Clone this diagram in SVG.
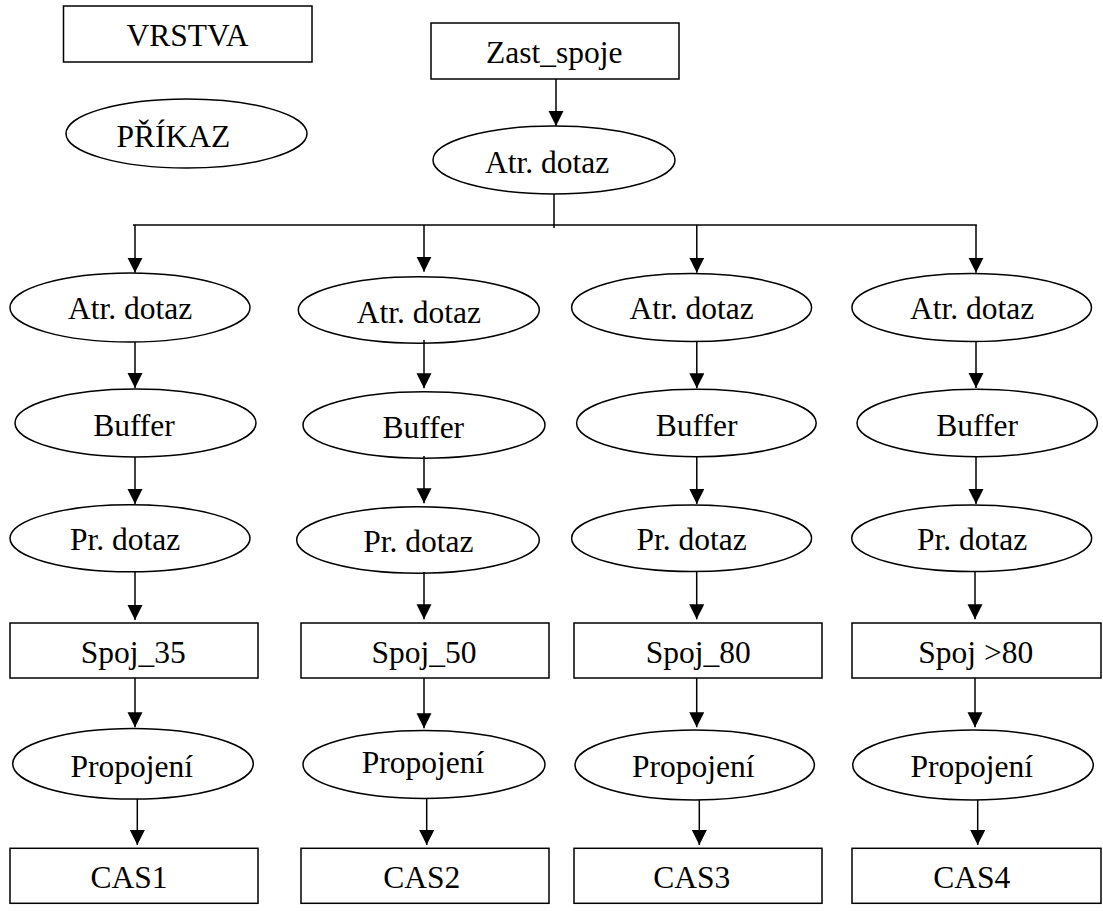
<svg xmlns="http://www.w3.org/2000/svg" width="1103" height="911" viewBox="0 0 1103 911">
<style>
.n{fill:#fff;stroke:#000;stroke-width:1.5}
.t{font-family:'Liberation Serif','Times New Roman',serif;font-size:31.5px;fill:#000;text-anchor:middle}
.c{fill:none;stroke:#000;stroke-width:1.5}
.a{marker-end:url(#ah)}
</style>
<defs>
<marker id="ah" markerUnits="userSpaceOnUse" markerWidth="16" markerHeight="16" refX="15" refY="7.5" orient="auto">
<path d="M0,0 L15,7.5 L0,15 z" fill="#000"/>
</marker>
</defs>
<rect width="1103" height="911" fill="#fff"/>
<g id="legend-vrstva"><rect class="n" x="63.5" y="6" width="248.5" height="56"/><text class="t" x="187.5" y="45.7">VRSTVA</text></g>
<g id="legend-prikaz"><ellipse class="n" cx="186.5" cy="133.5" rx="120.5" ry="34.5"/><text class="t" x="173.3" y="147">PŘÍKAZ</text></g>
<g id="zast"><rect class="n" x="431" y="23" width="248" height="56"/><text class="t" x="554.3" y="63.3">Zast_spoje</text></g>
<g id="atr0"><ellipse class="n" cx="554" cy="160" rx="121" ry="34"/><text class="t" x="547" y="173">Atr. dotaz</text></g>

<g id="atr1"><ellipse class="n" cx="130" cy="307.5" rx="120" ry="34.5"/><text class="t" x="130" y="319.3">Atr. dotaz</text></g>
<g id="buf1"><ellipse class="n" cx="135.5" cy="423" rx="120.5" ry="34"/><text class="t" x="134" y="436">Buffer</text></g>
<g id="pr1"><ellipse class="n" cx="130" cy="538.3" rx="120" ry="33.5"/><text class="t" x="125" y="550">Pr. dotaz</text></g>
<g id="spoj1"><rect class="n" x="10" y="623" width="248" height="55"/><text class="t" x="133.3" y="663.3">Spoj_35</text></g>
<g id="prop1"><ellipse class="n" cx="133" cy="763.7" rx="120.3" ry="35.3"/><text class="t" x="131.7" y="777.3">Propojení</text></g>
<g id="cas1"><rect class="n" x="10" y="848.3" width="248" height="55"/><text class="t" x="129" y="888.3">CAS1</text></g>

<g id="atr2"><ellipse class="n" cx="418.8" cy="310" rx="120.5" ry="33.3"/><text class="t" x="418.8" y="322.7">Atr. dotaz</text></g>
<g id="buf2"><ellipse class="n" cx="424" cy="425" rx="121" ry="33.3"/><text class="t" x="423.3" y="437.7">Buffer</text></g>
<g id="pr2"><ellipse class="n" cx="418" cy="540" rx="121.3" ry="33.3"/><text class="t" x="418.3" y="551.7">Pr. dotaz</text></g>
<g id="spoj2"><rect class="n" x="301" y="623" width="248" height="55"/><text class="t" x="424" y="663.3">Spoj_50</text></g>
<g id="prop2"><ellipse class="n" cx="424" cy="764.5" rx="121" ry="34"/><text class="t" x="423" y="773.3">Propojení</text></g>
<g id="cas2"><rect class="n" x="301" y="848.3" width="248" height="55"/><text class="t" x="421.7" y="888.3">CAS2</text></g>

<g id="atr3"><ellipse class="n" cx="691.6" cy="307.5" rx="120" ry="34"/><text class="t" x="691.6" y="319.3">Atr. dotaz</text></g>
<g id="buf3"><ellipse class="n" cx="696.4" cy="423" rx="119.8" ry="33.7"/><text class="t" x="696.7" y="436">Buffer</text></g>
<g id="pr3"><ellipse class="n" cx="691.6" cy="538.3" rx="120" ry="33.3"/><text class="t" x="691.5" y="550">Pr. dotaz</text></g>
<g id="spoj3"><rect class="n" x="574" y="623" width="248" height="55"/><text class="t" x="698.3" y="663.3">Spoj_80</text></g>
<g id="prop3"><ellipse class="n" cx="694.7" cy="765" rx="119.7" ry="35"/><text class="t" x="693.3" y="777.3">Propojení</text></g>
<g id="cas3"><rect class="n" x="574" y="848.3" width="248" height="55"/><text class="t" x="691.7" y="888.3">CAS3</text></g>

<g id="atr4"><ellipse class="n" cx="971.7" cy="307.5" rx="119.8" ry="34"/><text class="t" x="972" y="319.3">Atr. dotaz</text></g>
<g id="buf4"><ellipse class="n" cx="977.2" cy="423" rx="120.2" ry="33.7"/><text class="t" x="977.2" y="436">Buffer</text></g>
<g id="pr4"><ellipse class="n" cx="971.7" cy="538.3" rx="120" ry="33.3"/><text class="t" x="972" y="550">Pr. dotaz</text></g>
<g id="spoj4"><rect class="n" x="852" y="623" width="249" height="55"/><text class="t" x="975.7" y="663.3">Spoj &gt;80</text></g>
<g id="prop4"><ellipse class="n" cx="973" cy="765" rx="120.3" ry="35"/><text class="t" x="971.7" y="777.3">Propojení</text></g>
<g id="cas4"><rect class="n" x="852" y="848.3" width="249" height="55"/><text class="t" x="971.7" y="888.3">CAS4</text></g>

<g id="connectors">
<line class="c a" x1="556" y1="79" x2="556" y2="126"/>
<line class="c" x1="554" y1="194" x2="554" y2="228"/>
<line class="c" x1="133" y1="225" x2="976.8" y2="225"/>
<line class="c a" x1="135" y1="225" x2="135" y2="272.7"/>
<line class="c a" x1="424" y1="225" x2="424" y2="271.7"/>
<line class="c a" x1="696.8" y1="225" x2="696.8" y2="272.7"/>
<line class="c a" x1="976" y1="225" x2="976" y2="272.7"/>

<line class="c a" x1="135" y1="342" x2="135" y2="388"/>
<line class="c a" x1="135" y1="457" x2="135" y2="504"/>
<line class="c a" x1="135" y1="572" x2="135" y2="620"/>
<line class="c a" x1="135" y1="678" x2="135" y2="727.3"/>
<line class="c a" x1="137.3" y1="799" x2="137.3" y2="845"/>

<line class="c a" x1="424" y1="340" x2="424" y2="388.3"/>
<line class="c a" x1="424" y1="456" x2="424" y2="503.3"/>
<line class="c a" x1="424" y1="572" x2="424" y2="619.3"/>
<line class="c a" x1="424" y1="678" x2="424" y2="728.3"/>
<line class="c a" x1="426.7" y1="798" x2="426.7" y2="845"/>

<line class="c a" x1="696.8" y1="342" x2="696.8" y2="388.3"/>
<line class="c a" x1="696.8" y1="457" x2="696.8" y2="504"/>
<line class="c a" x1="696.7" y1="572" x2="696.7" y2="619.3"/>
<line class="c a" x1="696.7" y1="678" x2="696.7" y2="727.3"/>
<line class="c a" x1="699.3" y1="800" x2="699.3" y2="845"/>

<line class="c a" x1="976" y1="342" x2="976" y2="388"/>
<line class="c a" x1="976" y1="457" x2="976" y2="504"/>
<line class="c a" x1="975" y1="572" x2="975" y2="619.3"/>
<line class="c a" x1="975" y1="678" x2="975" y2="727.3"/>
<line class="c a" x1="977.7" y1="800" x2="977.7" y2="845"/>
</g>
</svg>
